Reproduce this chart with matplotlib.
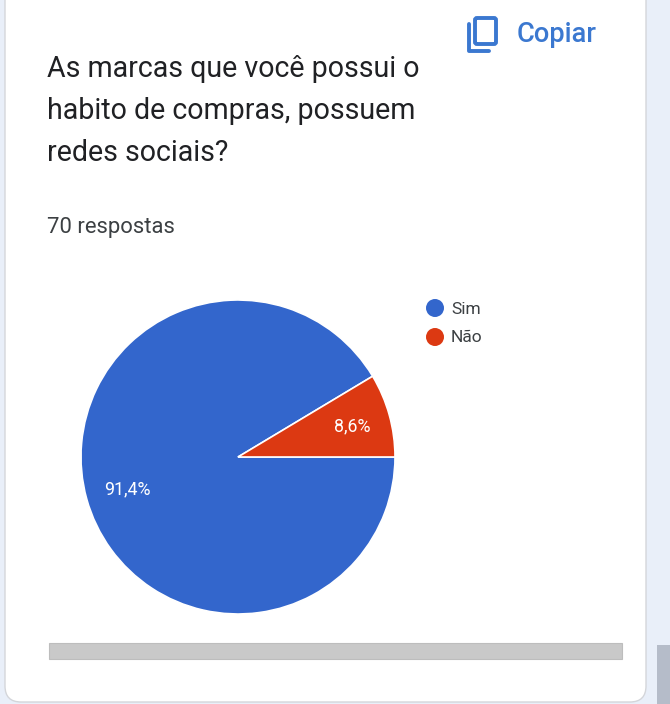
import matplotlib
matplotlib.use('Agg')
import matplotlib.pyplot as plt
from matplotlib.patches import FancyBboxPatch, Rectangle, Circle

W, H = 670, 704

labels = ['Sim', 'Não']
values = [91.4, 8.6]
value_text = ['91,4%', '8,6%']
colors = ['#3366cc', '#dc3912']
title_lines = ['As marcas que você possui o', 'habito de compras, possuem', 'redes sociais?']
responses = '70 respostas'

plt.rcParams['font.family'] = ['Roboto', 'DejaVu Sans']

fig = plt.figure(figsize=(W / 100, H / 100), dpi=100, facecolor='#e9eff9')

# page layer in pixel coordinates
bg = fig.add_axes([0, 0, 1, 1])
bg.set_xlim(0, W)
bg.set_ylim(H, 0)
bg.axis('off')

card = FancyBboxPatch((5, -40), 641, 742, boxstyle='round,pad=0,rounding_size=16',
                      fc='white', ec='#d4d6da', lw=1)
bg.add_patch(card)
bg.add_patch(Rectangle((657, 645), 13, 59, fc='#b5bcc9', ec='none'))

# copy icon
blue = '#3b78d0'
bg.add_patch(FancyBboxPatch((475, 18), 21, 26, boxstyle='round,pad=0,rounding_size=2',
                            fc='none', ec=blue, lw=2.8))
bg.plot([468.5, 468.5, 489], [24, 50.5, 50.5], color=blue, lw=2.8, solid_capstyle='round',
        solid_joinstyle='round')
bg.text(517, 34, 'Copiar', color=blue, fontsize=19.6, fontweight='medium', va='center', ha='left')

for txt, y in zip(title_lines, [69, 111, 153]):
    bg.text(47, y, txt, color='#202124', fontsize=20.6, va='center', ha='left')
bg.text(47, 227.5, responses, color='#3c4043', fontsize=15.8, va='center', ha='left')

# legend
for name, col, y in zip(labels, colors, [308, 337]):
    bg.add_patch(Circle((435, y), 9, fc=col, ec='none'))
    bg.text(451, y + 1, name, color='#3c4043', fontsize=12.5, va='center', ha='left')

# scrollbar track under the chart
bg.add_patch(Rectangle((49, 643), 573, 16, fc='#c9c9c9', ec='#bdbdbd', lw=0.8))

# pie, centre (238, 457), radius 157
cx, cy, r = 238, 457, 157
pie_ax = fig.add_axes([(cx - r) / W, 1 - (cy + r) / H, 2 * r / W, 2 * r / H])
wedges, _ = pie_ax.pie(values, colors=colors, startangle=values[1] * 3.6, radius=1,
                       wedgeprops={'edgecolor': 'white', 'linewidth': 1.2})
pie_ax.set_xlim(-1, 1)
pie_ax.set_ylim(-1, 1)

# slice percentages sit above the pie, placed in page pixels
pie_ax.text(127, 489.5, value_text[0], color='white', fontsize=12.8, va='center', ha='center',
            transform=bg.transData)
pie_ax.text(352, 426.5, value_text[1], color='white', fontsize=12.8, va='center', ha='center',
            transform=bg.transData)

fig.savefig('out.png', dpi=100)
